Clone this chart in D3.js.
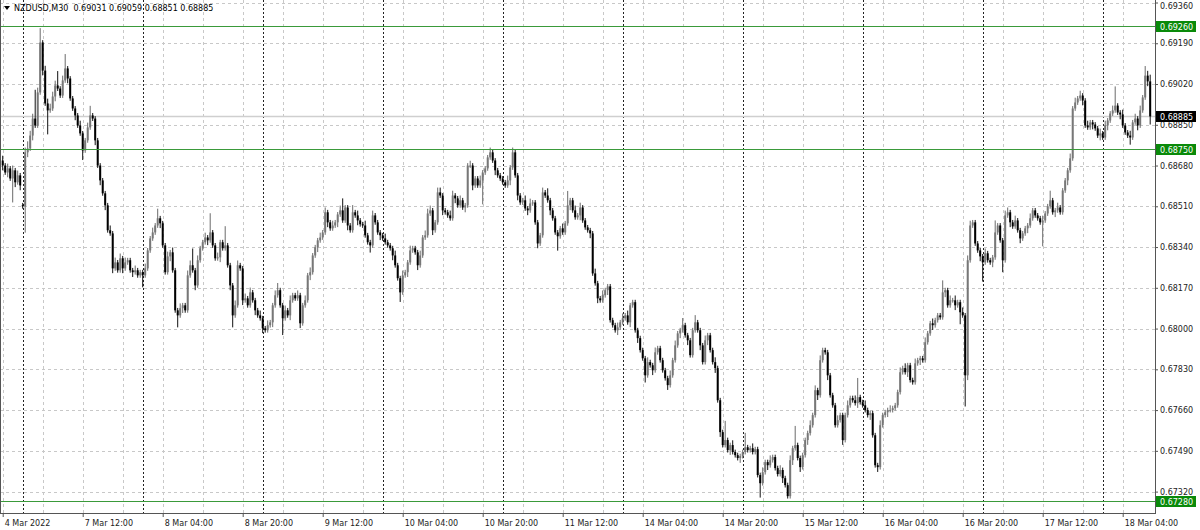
<!DOCTYPE html>
<html>
<head>
<meta charset="utf-8">
<script src="https://cdnjs.cloudflare.com/ajax/libs/d3/7.8.5/d3.min.js"></script>
<style>
  body { margin: 0; background: #fff; }
  svg { display: block; font-family: "DejaVu Sans", sans-serif; }
</style>
</head>
<body>
<svg width="1200" height="530"></svg>
<script>
const symbol = 'NZDUSD,M30';

// closes in points (0.00001) above BASE, one array per trading day (M30 bars)
const BASE = 0.67;
const fri4 = [1680, 1651, 1668, 1626, 1660, 1610, 1639, 1597];
const mar7 = [
  1510, 1735, 1751, 1805, 1876, 1847, 1985, 2193,
  2076, 1939, 1910, 1918, 1968, 2014, 2001, 1972,
  2035, 2085, 2043, 1960, 1918, 1889, 1847, 1814,
  1743, 1785, 1839, 1889, 1876, 1785, 1680, 1618,
  1564, 1514, 1410, 1397, 1251, 1276, 1243, 1293,
  1251, 1276, 1285, 1243, 1235, 1243, 1222, 1235];
const mar8 = [
  1222, 1251, 1326, 1376, 1401, 1430, 1460, 1439,
  1347, 1235, 1301, 1318, 1243, 1076, 1055, 1085,
  1097, 1076, 1222, 1264, 1243, 1180, 1285, 1335,
  1360, 1380, 1368, 1401, 1347, 1293, 1297, 1360,
  1335, 1347, 1264, 1180, 1055, 1097, 1264, 1251,
  1118, 1126, 1097, 1151, 1118, 1076, 1055, 1043];
const mar9 = [
  1001, 993, 1014, 1026, 1097, 1139, 1160, 1097,
  1043, 1076, 1055, 1118, 1139, 1126, 1139, 1022,
  1097, 1118, 1222, 1235, 1305, 1339, 1368, 1380,
  1401, 1485, 1443, 1418, 1430, 1443, 1476, 1493,
  1451, 1505, 1430, 1410, 1485, 1472, 1451, 1435,
  1430, 1389, 1360, 1347, 1472, 1443, 1401, 1389];
const mar10 = [
  1376, 1360, 1347, 1335, 1305, 1264, 1210, 1151,
  1222, 1235, 1276, 1326, 1335, 1318, 1264, 1305,
  1380, 1389, 1480, 1493, 1410, 1443, 1568, 1555,
  1493, 1485, 1472, 1460, 1555, 1543, 1514, 1535,
  1505, 1514, 1680, 1680, 1597, 1626, 1597, 1618,
  1651, 1668, 1714, 1735, 1701, 1660, 1639, 1626];
const mar11 = [
  1610, 1597, 1618, 1672, 1735, 1639, 1555, 1526,
  1535, 1501, 1493, 1522, 1526, 1443, 1355, 1389,
  1568, 1555, 1535, 1493, 1460, 1401, 1385, 1418,
  1401, 1439, 1514, 1535, 1493, 1464, 1472, 1505,
  1451, 1422, 1410, 1397, 1230, 1189, 1126, 1118,
  1139, 1160, 1176, 1035, 1014, 993, 1005, 1026];
const mar14 = [
  1043, 1055, 1026, 1097, 1110, 993, 960, 910,
  876, 805, 860, 847, 826, 901, 918, 868,
  826, 793, 764, 805, 868, 930, 980, 993,
  1014, 972, 951, 889, 993, 1026, 993, 930,
  860, 951, 972, 910, 860, 835, 701, 568,
  514, 535, 493, 514, 485, 472, 460, 468];
const mar15 = [
  485, 505, 493, 501, 485, 497, 389, 355,
  401, 443, 430, 451, 464, 418, 393, 410,
  376, 347, 301, 451, 501, 514, 460, 422,
  472, 535, 564, 597, 639, 743, 722, 868,
  910, 901, 805, 722, 680, 597, 618, 639,
  535, 639, 680, 710, 701, 689, 714, 693];
const mar16 = [
  680, 660, 639, 647, 555, 430, 422, 597,
  639, 651, 660, 660, 668, 680, 735, 818,
  835, 818, 847, 785, 776, 855, 868, 876,
  868, 943, 980, 1022, 1014, 1035, 1055, 1047,
  1151, 1160, 1097, 1118, 1118, 1097, 1110, 1068,
  1055, 805, 1285, 1430, 1443, 1355, 1326, 1301];
const mar17 = [
  1276, 1314, 1285, 1276, 1297, 1401, 1430, 1368,
  1285, 1472, 1485, 1443, 1426, 1451, 1410, 1376,
  1397, 1418, 1430, 1460, 1493, 1472, 1460, 1443,
  1451, 1480, 1510, 1535, 1485, 1493, 1505, 1485,
  1576, 1618, 1660, 1710, 1918, 1943, 1960, 1972,
  1951, 1847, 1839, 1860, 1851, 1835, 1805, 1814];
const mar18 = [
  1797, 1847, 1868, 1897, 1910, 1930, 1901, 1893,
  1847, 1818, 1805, 1797, 1860, 1876, 1847, 1910,
  1964, 2055, 2031, 1885];

// opens that differ from the previous close: [bar index, points]
const gapOpens = [[0, 1701], [8, 1514]];

// wick lengths beyond the body, in pips
const wickUp = [
  2,1,2,1,2,1,2,1,1,2, 3,2,2,12,2,6,1,2,2,2,
  2,2,6,1,2,6,1,1,1,1, 1,2,1,1,2,4,1,1,1,1,
  1,1,1,2,1,2,1,2,1,2, 1,1,1,2,1,1,1,2,1,1,
  2,1,4,1,1,1,2,1,2,1, 1,2,1,1,2,2,7,1,2,1,
  1,2,1,8,1,1,2,1,1,8, 1,1,1,2,2,1,1,2,1,2,
  1,1,1,2,1,1,2,1,1,2, 3,1,1,2,1,2,1,1,2,1,
  1,2,1,2,1,1,1,2,1,2, 1,1,2,1,1,2,5,1,1,1,
  3,1,2,1,1,2,1,1,2,1, 1,1,1,2,1,1,1,2,1,1,
  2,1,1,2,1,1,1,2,1,2, 2,2,1,1,2,2,1,1,1,2,
  2,1,1,2,1,1,1,2,1,1, 1,2,1,1,1,2,1,1,1,1,
  1,1,2,1,2,1,1,1,1,2, 1,2,1,1,1,1,2,1,3,1,
  1,1,1,1,2,1,6,1,1,2, 1,2,1,1,1,1,1,2,1,1,
  2,1,1,1,1,1,2,1,2,1, 2,1,1,1,1,1,1,1,2,1,
  1,2,1,1,1,1,1,2,1,2, 1,1,3,1,1,1,1,3,1,1,
  1,2,1,1,1,2,1,1,1,8, 1,1,2,1,1,1,1,6,1,1,
  2,1,1,1,2,1,1,2,1,1, 1,2,1,1,1,2,1,8,1,1,
  1,1,1,2,1,2,1,2,1,1, 1,1,1,1,2,1,1,1,2,1,
  1,2,8,1,1,2,1,1,1,1, 1,2,1,1,1,2,1,1,1,2,
  1,2,1,1,1,2,1,1,1,2, 1,1,2,1,1,1,5,1,1,2,
  1,2,1,1,2,1,2,2,1,1, 1,1,1,2,1,1,1,5,1,1,
  1,2,2,1,1,2,1,1,1,1, 1,2,1,1,1,1,2,1,1,4,
  1,1,2,1,1,1,1,2,1,2, 1,2,1,1,2,1,1,1,1,2,
  1,2,1,1,2,8,1,1,2,1, 1,2,1,2,1,2,1,4,2,2.8];
const wickDn = [
  2,1,2,1,10,2,1,2,1,11, 2,1,2,1,1,1,2,1,10,1,
  1,2,1,1,1,1,2,1,1,2, 1,1,4,1,1,1,1,2,1,2,
  1,2,1,1,2,1,1,1,2,1, 1,1,2,1,1,1,5,1,1,1,
  1,1,1,2,1,1,1,2,1,1, 5,1,2,1,1,1,1,2,1,1,
  1,1,2,1,1,1,1,2,1,1, 1,2,5,1,1,1,2,1,1,1,
  1,2,1,1,2,1,1,1,2,1, 1,1,7,1,1,2,1,1,1,2,
  1,1,1,2,1,1,2,1,1,1, 2,1,1,1,2,1,1,1,2,1,
  1,1,2,1,1,1,1,3,1,1, 1,2,1,1,1,1,2,1,1,4,
  1,1,2,1,1,1,2,1,1,1, 1,1,2,1,1,1,2,1,1,1,
  1,2,1,1,1,2,1,1,2,1, 1,1,10,1,1,1,1,2,1,1,
  1,1,1,2,1,1,2,1,1,1, 2,1,1,1,2,1,1,1,1,2,
  1,1,6,1,1,1,1,2,1,1, 1,2,1,1,1,2,1,1,2,1,
  1,1,2,1,1,1,2,1,1,1, 1,2,1,1,2,1,1,3,1,1,
  2,1,1,1,1,1,2,1,1,1, 1,2,1,1,2,1,1,1,1,2,
  1,1,2,1,1,2,1,2,1,1, 1,2,1,1,1,2,1,1,1,1,
  1,1,1,6,1,1,2,1,1,1, 1,1,2,1,1,1,2,1,1,2,
  1,1,2,1,1,1,2,1,1,1, 2,1,1,1,1,1,2,1,1,1,
  1,1,2,1,1,1,1,2,1,1, 2,1,1,1,2,1,1,1,1,1,
  1,1,2,1,1,1,1,2,1,1, 1,1,2,1,1,1,1,2,1,1,
  1,2,1,5,1,13,2,1,1,1, 1,2,8,1,1,1,2,1,1,1,
  5,1,1,2,1,1,1,2,1,1, 2,1,1,1,1,1,10,1,1,1,
  1,2,1,1,1,1,2,1,1,1, 1,1,2,1,1,1,2,1,1,2,
  1,1,2,1,1,1,1,2,1,1, 1,3,1,1,2,1,1,1,2,3.4];

const priceTicks = [0.69360, 0.69190, 0.69020, 0.68850, 0.68680, 0.68510, 0.68340,
  0.68170, 0.68000, 0.67830, 0.67660, 0.67490, 0.67320];
const levels = [0.69260, 0.68750, 0.67280];
const timeLabels = ['4 Mar 2022', '7 Mar 12:00', '8 Mar 04:00', '8 Mar 20:00', '9 Mar 12:00',
  '10 Mar 04:00', '10 Mar 20:00', '11 Mar 12:00', '14 Mar 04:00', '14 Mar 20:00',
  '15 Mar 12:00', '16 Mar 04:00', '16 Mar 20:00', '17 Mar 12:00', '18 Mar 04:00'];

const days = [fri4, mar7, mar8, mar9, mar10, mar11, mar14, mar15, mar16, mar17, mar18];
const closes = [].concat(...days);
const daySeparators = Array.from(d3.cumsum(days, d => d.length)).slice(0, -1);

const opens = closes.map((c, i) => (i > 0 ? closes[i - 1] : c));
gapOpens.forEach(([i, v]) => { opens[i] = v; });

const px = v => BASE + v / 1e5;
const bars = closes.map((c, i) => {
  const o = opens[i];
  return {
    i, o, c,
    h: Math.max(o, c) + wickUp[i] * 10,
    l: Math.min(o, c) - wickDn[i] * 10
  };
});

const plotRight = 1155;
const plotBottom = 513;
const N = bars.length;

const svg = d3.select('svg');

const x = d3.scaleLinear().domain([0, N - 1]).range([2.7, 2.7 + (N - 1) * 2.5]);
const y = d3.scaleLinear().domain([0.6732, 0.6936]).range([491.6, 2.5]);

// grid
const grid = svg.append('g').attr('shape-rendering', 'crispEdges');
grid.selectAll('.hgrid')
  .data(priceTicks)
  .join('line')
  .attr('x1', 0).attr('x2', plotRight)
  .attr('y1', d => Math.round(y(d)) + 0.5).attr('y2', d => Math.round(y(d)) + 0.5)
  .attr('stroke', '#c8c8c8').attr('stroke-dasharray', '3,3');

grid.selectAll('.vgrid')
  .data(d3.range(0, N, 16))
  .join('line')
  .attr('x1', d => Math.round(x(d)) + 0.5).attr('x2', d => Math.round(x(d)) + 0.5)
  .attr('y1', 0).attr('y2', plotBottom)
  .attr('stroke', '#c8c8c8').attr('stroke-dasharray', '3,3');

grid.selectAll('.sep')
  .data(daySeparators)
  .join('line')
  .attr('x1', d => Math.round(x(d)) + 0.5).attr('x2', d => Math.round(x(d)) + 0.5)
  .attr('y1', 0).attr('y2', plotBottom)
  .attr('stroke', '#222').attr('stroke-dasharray', '2,2');

// bid line
const last = bars[N - 1];
svg.append('line')
  .attr('x1', 0).attr('x2', plotRight)
  .attr('y1', y(px(last.c))).attr('y2', y(px(last.c)))
  .attr('stroke', '#cfcfcf').attr('stroke-width', 1.5);

// candles
const up = d => d.c >= d.o;
const candles = svg.append('g').selectAll('g').data(bars).join('g');
candles.append('line')
  .attr('x1', d => x(d.i)).attr('x2', d => x(d.i))
  .attr('y1', d => y(px(d.h))).attr('y2', d => y(px(d.l)))
  .attr('stroke', d => (up(d) ? '#6a6a6a' : '#111'))
  .attr('stroke-width', 1);
candles.append('rect')
  .attr('x', d => x(d.i) - 1)
  .attr('width', 2)
  .attr('y', d => y(px(Math.max(d.o, d.c))))
  .attr('height', d => Math.max(1, Math.abs(y(px(d.o)) - y(px(d.c)))))
  .attr('fill', d => (up(d) ? '#777' : '#000'));

// horizontal levels
svg.append('g').selectAll('line')
  .data(levels)
  .join('line')
  .attr('x1', 0).attr('x2', plotRight)
  .attr('y1', d => Math.round(y(d)) + 0.5).attr('y2', d => Math.round(y(d)) + 0.5)
  .attr('stroke', '#3a9a3a').attr('shape-rendering', 'crispEdges');

// frame
svg.append('path')
  .attr('d', `M0.5,0V${plotBottom + 0.5}H${plotRight + 0.5}V0`)
  .attr('fill', 'none').attr('stroke', '#555').attr('shape-rendering', 'crispEdges');

// price axis
const yAxis = svg.append('g')
  .attr('transform', `translate(${plotRight},0)`)
  .call(d3.axisRight(y).tickValues(priceTicks).tickFormat(d3.format('.5f')).tickSize(3).tickPadding(2));
yAxis.select('.domain').remove();
yAxis.selectAll('text')
  .attr('font-size', 8).attr('fill', '#222').attr('font-family', '"DejaVu Sans", sans-serif')
  .attr('y', d => Math.max(0, 5.5 - y(d)));
yAxis.selectAll('line').attr('stroke', '#555');

// time axis
const xAxis = svg.append('g')
  .attr('transform', `translate(0,${plotBottom})`)
  .call(d3.axisBottom(x)
    .tickValues(timeLabels.map((d, k) => k * 32))
    .tickFormat((d, k) => timeLabels[k])
    .tickSize(4).tickPadding(3));
xAxis.select('.domain').remove();
xAxis.selectAll('text')
  .attr('text-anchor', 'start').attr('x', 1.5)
  .attr('font-size', 8).attr('fill', '#222').attr('font-family', '"DejaVu Sans", sans-serif');
xAxis.selectAll('line').attr('stroke', '#555');

// level and bid labels on the price axis
const tags = levels.map(v => ({ v, fill: '#0a8a0a' })).concat([{ v: px(last.c), fill: '#000' }]);
const tag = svg.append('g').selectAll('g').data(tags).join('g')
  .attr('transform', d => `translate(${plotRight + 1},${Math.round(y(d.v))})`);
tag.append('rect')
  .attr('x', 0).attr('y', -5).attr('width', 40).attr('height', 11)
  .attr('fill', d => d.fill);
tag.append('text')
  .attr('x', 4).attr('y', 3.5)
  .attr('font-size', 8).attr('fill', '#fff')
  .text(d => d.v.toFixed(5));

// header
svg.append('path').attr('d', 'M4,6H10L7,10Z').attr('fill', '#000');
svg.append('text')
  .attr('x', 14).attr('y', 11)
  .attr('font-size', 8).attr('fill', '#000')
  .style('white-space', 'pre')
  .text(`${symbol}  ${[last.o, last.h, last.l, last.c].map(v => px(v).toFixed(5)).join(' ')}`);
</script>
</body>
</html>
